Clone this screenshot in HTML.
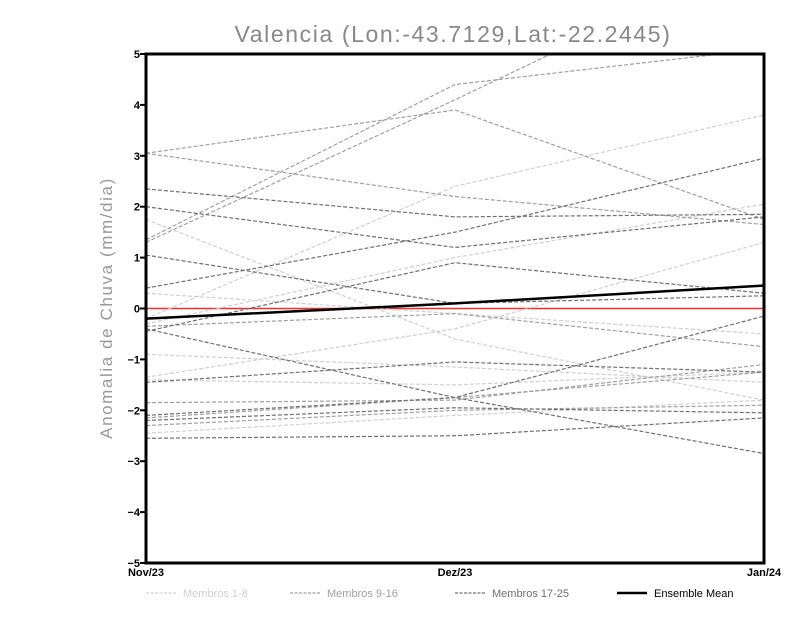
<!DOCTYPE html>
<html><head><meta charset="utf-8"><style>
body{margin:0;background:#fff;font-family:"Liberation Sans",sans-serif}
</style></head><body>
<svg width="800" height="618" viewBox="0 0 800 618">
<text x="453" y="42" text-anchor="middle" font-size="23" fill="#888" letter-spacing="1.6">Valencia (Lon:-43.7129,Lat:-22.2445)</text>
<text transform="translate(112,308) rotate(-90)" text-anchor="middle" font-size="17" fill="#999" letter-spacing="1.6">Anomalia de Chuva (mm/dia)</text>
<defs><clipPath id="pc"><rect x="146" y="54" width="618" height="509"/></clipPath></defs>
<g id="yt"></g><g id="xt"></g>
<g id="series" clip-path="url(#pc)"></g>
<rect x="146" y="54" width="618" height="509" fill="none" stroke="#000" stroke-width="3"/>
<g id="legend"></g>
<script>
const categories=["Nov/23","Dez/23","Jan/24"];
const yTicks=[5,4,3,2,1,0,-1,-2,-3,-4,-5];
const membersLight=[[1.75,-0.6,-1.8],[0.3,-0.1,-0.5],[-0.2,2.4,3.8],[-0.3,1.0,2.05],[-0.9,-1.15,-1.45],[-1.35,-0.4,1.3],[-1.4,-1.5,-1.25],[-2.45,-2.1,-1.8]];
const membersMid=[[3.05,3.9,1.75],[3.05,2.2,1.65],[1.35,4.4,5.1],[1.3,4.1,7.0],[-0.35,-0.1,-0.75],[-2.15,-1.75,-1.25],[-1.85,-1.8,-1.1],[-2.3,-2.0,-1.9]];
const membersDark=[[2.35,1.8,1.85],[2.0,1.2,1.8],[1.05,0.1,0.25],[0.4,1.5,2.95],[-0.45,0.9,0.3],[-0.4,-1.75,-2.85],[-1.45,-1.05,-1.25],[-2.1,-1.75,-0.15],[-2.55,-2.5,-2.15],[-2.2,-1.95,-2.05]];
const ensembleMean=[-0.2,0.1,0.45];
const legendLabels=["Membros 1-8","Membros 9-16","Membros 17-25","Ensemble Mean"];
const NS="http://www.w3.org/2000/svg";
const xs=i=>146+i*(618/(categories.length-1));
const ys=v=>308.5-v*50.9;
function mk(t,a,p){const e=document.createElementNS(NS,t);for(const k in a)e.setAttribute(k,a[k]);p.appendChild(e);return e;}
const yt=document.getElementById('yt');
yTicks.forEach(v=>{
 const l=mk('line',{x1:140,x2:146,y1:ys(v),y2:ys(v),stroke:'#000','stroke-width':2},yt);
 
 
 const t=mk('text',{x:140,y:ys(v)+4,'text-anchor':'end','font-size':11,'font-weight':'bold'},yt);
 t.textContent=String(v).replace('-','\u2212');
 
 
});
const xt=document.getElementById('xt');
categories.forEach((c,i)=>{
 const t=mk('text',{x:xs(i),y:576,'text-anchor':'middle','font-size':11,'font-weight':'bold'},xt);
 t.textContent=c;
 
 
});
const g=document.getElementById('series');
const z=mk('line',{x1:146,x2:764,y1:ys(0),y2:ys(0),stroke:'#f03030','stroke-width':1.5},g);


function draw(arr,col,name){arr.forEach(d=>{
 const p=mk('polyline',{points:d.map((v,i)=>xs(i)+','+ys(v)).join(' '),fill:'none',stroke:col,'stroke-width':1.2,'stroke-dasharray':'4,2'},g);
 
 
});}
draw(membersLight,'#d0d0d0','member-line-1-8');
draw(membersMid,'#a0a0a0','member-line-9-16');
draw(membersDark,'#707070','member-line-17-25');
const m=mk('polyline',{points:ensembleMean.map((v,i)=>xs(i)+','+ys(v)).join(' '),fill:'none',stroke:'#000','stroke-width':2.5},g);


const lg=document.getElementById('legend');
const lx=[146,290,455,617],lc=['#d0d0d0','#a0a0a0','#707070','#000'];
legendLabels.forEach((s,i)=>{
 const e=mk('g',{},lg);
 
 
 mk('line',{x1:lx[i],x2:lx[i]+30,y1:593,y2:593,stroke:lc[i],'stroke-width':i==3?2.5:1.2,'stroke-dasharray':i==3?'':'3,1.5'},e);
 const t=mk('text',{x:lx[i]+37,y:597,'font-size':11,fill:i==3?'#000':lc[i]},e);
 t.textContent=s;
});
</script>
</svg>
</body></html>
